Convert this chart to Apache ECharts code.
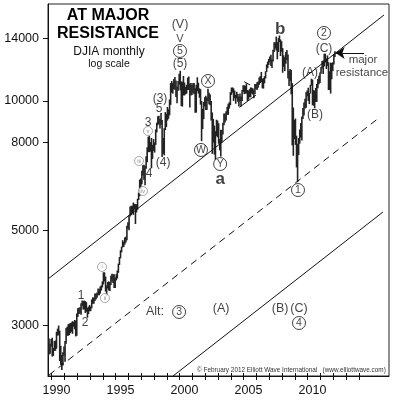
<!DOCTYPE html>
<html><head><meta charset="utf-8">
<script src="https://cdn.jsdelivr.net/npm/echarts@6/dist/echarts.min.js"></script>
<style>html,body{margin:0;padding:0;background:#fff}#c{width:396px;height:400px}</style>
</head><body><div id="c"></div>
<script>
// ---------- DATA ----------
const firstYear = 1989, firstMonth = 9; // first monthly bar: Sep 1989
const monthlyLow = [
  2650, 2570, 2580, 2680,
  2540, 2550, 2620, 2620, 2650, 2840, 2850, 2480, 2430, 2365, 2420, 2550,
  2470, 2720, 2840, 2840, 2850, 2880, 2900, 2870, 2980, 2940, 2830, 2840,
  3140, 3190, 3200, 3180, 3330, 3270, 3270, 3210, 3230, 3130, 3190, 3240,
  3240, 3290, 3370, 3370, 3420, 3450, 3480, 3530, 3530, 3560, 3620, 3680,
  3740, 3800, 3600, 3520, 3660, 3620, 3610, 3730, 3800, 3770, 3670, 3670,
  3820, 3860, 3980, 4150, 4300, 4440, 4560, 4570, 4630, 4680, 4740, 5040,
  5000, 5380, 5420, 5470, 5430, 5590, 5170, 5500, 5580, 5880, 6000, 6250,
  6400, 6700, 6550, 6360, 6950, 7200, 7600, 7600, 7620, 6970, 7330, 7650,
  7580, 7900, 8450, 8780, 8830, 8630, 8800, 7400, 7530, 7470, 8550, 8690,
  9000, 9090, 9260, 9790, 10450, 10400, 10650, 10620, 10210, 9880, 10560, 10900,
  10580, 9730, 9700, 10300, 10300, 10360, 10400, 10600, 10600, 9650, 10300, 10320,
  10430, 10360, 9390, 9390, 10540, 10400, 10170, 9800, 8060, 8600, 9070, 9710,
  9530, 9530, 10000, 9820, 9770, 9000, 7530, 8000, 7500, 7290, 8280, 8230,
  7950, 7670, 7420, 7990, 8350, 8780, 8910, 9000, 9280, 9280, 9600, 9770,
  10330, 10450, 10000, 10150, 9850, 10140, 9950, 9700, 9950, 9710, 10000, 10500,
  10370, 10400, 10400, 10000, 10070, 10200, 10200, 10400, 10350, 10150, 10380, 10660,
  10600, 10730, 10910, 11000, 11060, 10700, 10680, 10990, 11280, 11670, 11920, 12130,
  12300, 12050, 11930, 12350, 12990, 13250, 13100, 12500, 13000, 13700, 12720, 13000,
  11630, 12000, 11730, 12210, 12450, 11280, 10830, 11130, 10360, 7880, 7450, 8150,
  7900, 7000, 6470, 7480, 7950, 8220, 8090, 9070, 9250, 9600, 9640, 10250,
  10000, 9830, 10400, 10850, 9770, 9750, 9610, 9940, 9950, 10700, 10930, 11000,
  11560, 11890, 11550, 12030, 12290, 11860, 12060, 10600, 10600, 10400, 11230, 11730,
  12150, 12650
];
const monthlyHigh = [
  2790, 2800, 2720, 2790,
  2810, 2660, 2760, 2770, 2900, 2950, 3000, 2920, 2690, 2560, 2600, 2680,
  2760, 2960, 2980, 3020, 3030, 3040, 3050, 3070, 3060, 3090, 3080, 3200,
  3290, 3300, 3310, 3380, 3430, 3420, 3430, 3420, 3400, 3300, 3320, 3350,
  3320, 3450, 3490, 3480, 3560, 3560, 3580, 3660, 3650, 3700, 3720, 3800,
  3990, 3990, 3900, 3720, 3790, 3800, 3790, 3920, 3960, 3950, 3950, 3880,
  3950, 4030, 4180, 4330, 4490, 4580, 4740, 4700, 4810, 4830, 5120, 5220,
  5420, 5680, 5700, 5700, 5800, 5760, 5750, 5750, 5920, 6120, 6560, 6600,
  6880, 7080, 7100, 7050, 7430, 7800, 8250, 8300, 8020, 8200, 7900, 8150,
  8000, 8580, 8900, 9210, 9230, 9070, 9370, 9030, 8200, 8640, 9420, 9330,
  9680, 9560, 10080, 11000, 11130, 11000, 11250, 11370, 11150, 10800, 11130, 11570,
  11750, 11100, 11080, 11430, 11030, 10780, 10900, 11330, 11400, 10980, 11000, 10900,
  11000, 11000, 10700, 10900, 11350, 11020, 10700, 10650, 10000, 9580, 9950, 10200,
  10280, 10190, 10670, 10450, 10350, 10000, 9400, 9080, 8760, 8500, 9040, 9000,
  8870, 8150, 8570, 8560, 8900, 9350, 9350, 9460, 9690, 9850, 9930, 10480,
  10740, 10750, 10700, 10570, 10330, 10500, 10380, 10240, 10400, 10240, 10600, 10870,
  10870, 10840, 10980, 10600, 10570, 10650, 10750, 10730, 10700, 10620, 10950, 10950,
  11050, 11100, 11330, 11420, 11680, 11260, 11300, 11420, 11720, 12160, 12350, 12530,
  12690, 12800, 12500, 13150, 13690, 13700, 14120, 13700, 14000, 14200, 13900, 13770,
  13280, 12770, 12630, 13000, 13140, 12830, 11750, 11870, 11800, 11000, 9650, 9030,
  9100, 8300, 7950, 8200, 8580, 8880, 9200, 9630, 9920, 10120, 10480, 10580,
  10730, 10430, 10900, 11260, 11210, 10600, 10560, 10720, 10950, 11250, 11450, 11640,
  11990, 12390, 12420, 12880, 12880, 12560, 12760, 12300, 11720, 12280, 12250, 12300,
  12850, 13050
];
const yTickValues = [3000, 5000, 8000, 10000, 14000];
const xLabelYears = [1990, 1995, 2000, 2005, 2010];
const xTickYears = [1990,1991,1992,1993,1994,1995,1996,1997,1998,1999,2000,2001,2002,2003,2004,2005,2006,2007,2008,2009,2010,2011,2012,2013,2014];

// channel lines [year, value]
const upperLine = [[1989.71, 3849], [2015.96, 15849]];
const dashedLine = [[1989.79, 2301], [2015.65, 9173]];
const lowerLine = [[1999.48, 2289], [2015.88, 5513]];
const minorLine = [[2004.66, 9663], [2005.96, 10321]];
const minorTick = [[2005.04, 11083], [2005.50, 10891]];
const resistanceArrow = [[2014.40, 12928], [2012.18, 12928]];

// annotations [year, value, text, fontSize, weight]
const plainLabels = [
  [2000.02, 15023, '(V)', 12.5, 'normal'],
  [2000.02, 13938, 'V', 11, 'normal'],
  [2000.02, 12186, '(5)', 12, 'normal'],
  [1998.46, 10102, '(3)', 12, 'normal'],
  [1998.38, 9575, '5', 12, 'normal'],
  [1997.52, 8883, '3', 12, 'normal'],
  [1997.60, 6759, '4', 12, 'normal'],
  [1998.70, 7168, '(4)', 12, 'normal'],
  [1992.29, 3512, '1', 12, 'normal'],
  [1992.60, 3041, '2', 12, 'normal'],
  [1998.07, 3226, 'Alt:', 12.5, 'normal'],
  [2003.23, 3278, '(A)', 12.5, 'normal'],
  [2007.84, 3278, '(B)', 12.5, 'normal'],
  [2009.32, 3278, '(C)', 12.5, 'normal'],
  [2003.16, 6580, 'a', 17, 'bold'],
  [2007.84, 14705, 'b', 17, 'bold'],
  [2011.27, 13208, '(C)', 12, 'normal'],
  [2010.18, 11612, '(A)', 12, 'normal'],
  [2010.57, 9273, '(B)', 12, 'normal'],
  [2014.32, 12451, 'major', 11.5, 'normal'],
  [2014.24, 11612, 'resistance', 11.5, 'normal']
];
const circledLabels = [
  [2000.02, 13069, '5'],
  [1999.95, 3226, '3'],
  [2009.32, 3041, '4'],
  [2001.66, 7688, 'W'],
  [2002.21, 11126, 'X'],
  [2003.16, 7130, 'Y'],
  [2011.27, 14393, '2'],
  [2009.24, 6202, '1']
];
const smallCircledLabels = [
  [1997.52, 8510, 'v'],
  [1996.82, 7246, 'iii'],
  [1997.13, 6170, 'iv'],
  [1993.93, 4107, 'i'],
  [1994.16, 3476, 'ii']
];

// ---------- CHART ----------
const FONT = '"Liberation Sans", Arial, Helvetica, sans-serif';
const bars = monthlyLow.map((lo, i) => {
  const mIdx = firstMonth - 1 + i;
  const yr = firstYear + Math.floor(mIdx / 12);
  const m = mIdx % 12;
  return [yr + (m + 0.5) / 12, lo, monthlyHigh[i]];
});

function lineSeries(data, dashed) {
  return {
    type: 'line', data: data, symbol: 'none', silent: true, animation: false,
    lineStyle: { color: '#111', width: 1, type: dashed ? [7, 5] : 'solid' },
    z: 3
  };
}

const chart = echarts.init(document.getElementById('c'), null, { renderer: 'canvas' });
chart.setOption({
  animation: false,
  backgroundColor: '#fff',
  grid: { left: 48, top: 4, right: 7, bottom: 24, show: true, borderColor: '#222', borderWidth: 1, backgroundColor: 'transparent' },
  xAxis: [{
    type: 'value', min: 1989.71, max: 2016.35,
    splitLine: { show: false },
    axisLine: { show: true, onZero: false, lineStyle: { color: '#111', width: 1 } },
    axisTick: { show: true, customValues: xTickYears, length: 4, lineStyle: { color: '#111' } },
    axisLabel: { customValues: xLabelYears.map(y => y + 0.375), formatter: v => String(Math.floor(v)), fontSize: 12.5, margin: 8, color: '#111', fontFamily: FONT }
  }, {
    type: 'value', min: 1989.71, max: 2016.35, position: 'bottom',
    splitLine: { show: false },
    axisLine: { show: false, onZero: false },
    axisTick: { show: true, inside: true, customValues: xTickYears, length: 3, lineStyle: { color: '#111' } },
    axisLabel: { show: false }
  }],
  yAxis: {
    type: 'log', logBase: 10, min: 2289, max: 16810,
    splitLine: { show: false },
    axisLine: { show: true, lineStyle: { color: '#111' } },
    axisTick: { show: true, customValues: yTickValues, length: 5, lineStyle: { color: '#111' } },
    axisLabel: { customValues: yTickValues, formatter: v => String(Math.round(v)), fontSize: 12.5, margin: 9, color: '#111', fontFamily: FONT },
    minorTick: { show: false }
  },
  series: [
    {
      type: 'custom', data: bars, encode: { x: 0, y: [1, 2] }, silent: true, z: 2, clip: true,
      renderItem: (params, api) => {
        const p1 = api.coord([api.value(0), api.value(1)]);
        const p2 = api.coord([api.value(0), api.value(2)]);
        return { type: 'line', shape: { x1: p1[0], y1: p1[1], x2: p2[0], y2: p2[1] }, style: { stroke: '#222', lineWidth: 1.6 } };
      }
    },
    lineSeries(upperLine, false),
    lineSeries(dashedLine, true),
    lineSeries(lowerLine, false),
    lineSeries(minorLine, false),
    lineSeries(minorTick, false),
    {
      type: 'line', data: [], symbol: 'none', silent: true,
      markLine: {
        silent: true, symbol: ['none', 'arrow'], symbolSize: 9,
        label: { show: false },
        lineStyle: { color: '#111', width: 1, type: 'solid' },
        data: [[{ coord: resistanceArrow[0] }, { coord: resistanceArrow[1] }]]
      }
    },
    {
      type: 'scatter', silent: true, z: 6, symbolSize: 1,
      itemStyle: { color: 'rgba(0,0,0,0)' },
      label: { show: true, position: 'inside', color: '#111', fontFamily: FONT },
      data: plainLabels.map(d => ({ value: [d[0], d[1]], label: { formatter: d[2], fontSize: d[3], fontWeight: d[4] } }))
    },
    {
      type: 'scatter', silent: true, z: 6, symbol: 'circle', symbolSize: 13,
      itemStyle: { color: '#fff', borderColor: '#111', borderWidth: 1 },
      label: { show: true, position: 'inside', color: '#111', fontSize: 10.5, fontFamily: FONT, formatter: '{b}' },
      data: circledLabels.map(d => ({ value: [d[0], d[1]], name: d[2] }))
    },
    {
      type: 'scatter', silent: true, z: 6, symbol: 'circle', symbolSize: 9,
      itemStyle: { color: '#fff', borderColor: '#777', borderWidth: 0.8 },
      label: { show: true, position: 'inside', color: '#666', fontSize: 5.5, fontFamily: FONT, formatter: '{b}' },
      data: smallCircledLabels.map(d => ({ value: [d[0], d[1]], name: d[2] }))
    }
  ],
  graphic: [
    { type: 'text', x: 108, y: 16, z: 10, style: { text: 'AT MAJOR', fontSize: 16, fontWeight: 'bold', fontFamily: FONT, fill: '#000', align: 'center', verticalAlign: 'middle' } },
    { type: 'text', x: 108, y: 34, z: 10, style: { text: 'RESISTANCE', fontSize: 16, fontWeight: 'bold', fontFamily: FONT, fill: '#000', align: 'center', verticalAlign: 'middle' } },
    { type: 'text', x: 109, y: 52, z: 10, style: { text: 'DJIA monthly', fontSize: 12, fontFamily: FONT, fill: '#111', align: 'center', verticalAlign: 'middle' } },
    { type: 'text', x: 109, y: 64, z: 10, style: { text: 'log scale', fontSize: 10.5, fontFamily: FONT, fill: '#111', align: 'center', verticalAlign: 'middle' } },
    { type: 'text', x: 197, y: 370, z: 10, style: { text: '\u00A9 February 2012 Elliott Wave International   (www.elliottwave.com)', fontSize: 6.4, fontFamily: FONT, fill: '#333', align: 'left', verticalAlign: 'middle' } }
  ]
});
</script>
</body></html>
